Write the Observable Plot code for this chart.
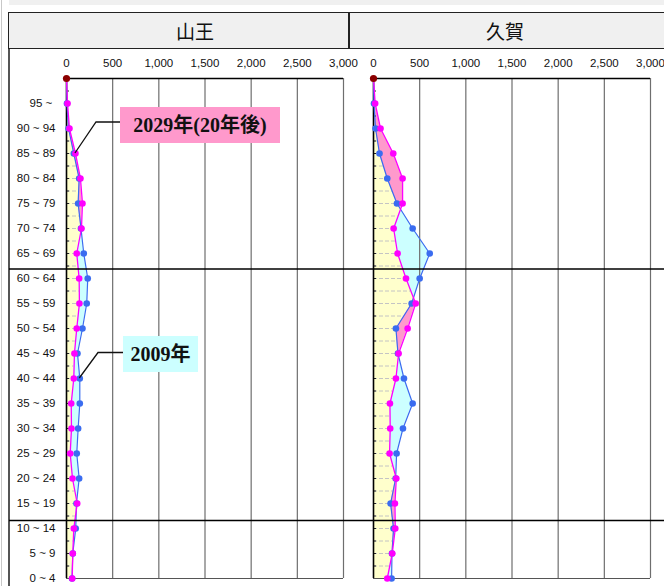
<!DOCTYPE html>
<html>
<head>
<meta charset="utf-8">
<script src="https://cdn.jsdelivr.net/npm/d3@7"></script>
<script src="https://cdn.jsdelivr.net/npm/@observablehq/plot@0.6"></script>
<style>
  html, body { margin: 0; padding: 0; background: #fff; }
  #page { position: relative; width: 664px; height: 586px; overflow: hidden; background: #fff; }
  .band { position: absolute; left: 9px; top: 0; width: 660px; height: 5px; background: #f0f0f0; }
  .edge { position: absolute; left: 1px; top: 0; width: 1px; height: 586px; background: #c8c8c8; }
  .border { position: absolute; left: 8px; top: 12px; width: 2px; height: 574px; background: #555; }
  .header { position: absolute; left: 8px; top: 12px; width: 670px; height: 35px;
            border: 1.5px solid #222; background: #f0f0f0; box-sizing: content-box; }
  .header .divider { position: absolute; left: 339px; top: 0; width: 2px; height: 35px; background: #222; }
  .header .cell { position: absolute; top: 0; height: 35px; line-height: 35px; font-size: 19px;
                  font-family: "Noto Sans CJK JP", sans-serif; color: #111; transform: translateX(-50%); }
  .note { position: absolute; box-sizing: border-box; text-align: center; font-weight: bold;
          font-family: "Liberation Serif", "Noto Sans CJK JP", serif; font-size: 20px; color: #111; }
</style>
</head>
<body>
<div id="page"></div>
<script>
// Age groups, bottom (youngest) to top (oldest)
const ageGroups = ["0 ~ 4", "5 ~ 9", "10 ~ 14", "15 ~ 19", "20 ~ 24", "25 ~ 29", "30 ~ 34",
  "35 ~ 39", "40 ~ 44", "45 ~ 49", "50 ~ 54", "55 ~ 59", "60 ~ 64", "65 ~ 69", "70 ~ 74",
  "75 ~ 79", "80 ~ 84", "85 ~ 89", "90 ~ 94", "95 ~\u00a0"];

const panels = ["山王", "久賀"];

// Population by age group (2009 actual, 2029 projection)
const sannou2009 = [60, 68, 100, 108, 137, 111, 126, 144, 144, 119, 173, 219, 230, 187, 157, 126, 137, 79, 22, 5];
const sannou2029 = [62, 68, 79, 116, 65, 40, 54, 51, 79, 86, 111, 140, 137, 111, 162, 173, 151, 97, 32, 11];
const kuga2009 = [196, 200, 217, 185, 240, 250, 319, 424, 330, 265, 243, 413, 500, 609, 424, 254, 149, 65, 22, 5];
const kuga2029 = [149, 203, 236, 232, 247, 174, 181, 178, 243, 272, 370, 457, 352, 261, 218, 315, 315, 214, 76, 18];

// Apex of the pyramid outline
const apexValue = 0;

const xTicks = [0, 500, 1000, 1500, 2000, 2500, 3000];

const label2029 = "2029年(20年後)";
const label2009 = "2009年";

// ---- colours
const C = {
  y2009: "#3a6cf0", y2029: "#ff00ff", apex: "#8b0000",
  more2029: "#ff99cc", more2009: "#ccffff", base: "#ffffcc"
};

const page = document.getElementById("page");

// rows with the apex on top
function buildRows(v2009, v2029) {
  const rows = ageGroups.map((g, i) => ({idx: i, age: g, b: v2009[i], m: v2029[i]}));
  rows.push({idx: ageGroups.length, age: "", b: apexValue, m: apexValue});
  return rows;
}

// rows plus the points where the two outlines cross, so that fills split cleanly
function withCrossings(rows) {
  const out = [];
  for (let i = 0; i < rows.length; i++) {
    out.push(rows[i]);
    if (i + 1 < rows.length) {
      const d0 = rows[i].m - rows[i].b, d1 = rows[i + 1].m - rows[i + 1].b;
      if (d0 * d1 < 0) {
        const t = d0 / (d0 - d1);
        const v = rows[i].b + t * (rows[i + 1].b - rows[i].b);
        out.push({idx: rows[i].idx + t, b: v, m: v});
      }
    }
  }
  return out;
}

const halfSteps = d3.range(0.5, ageGroups.length, 0.5);
const frameWidth = 277;

function panelPlot(v2009, v2029, {left, width, marginLeft, marginRight, showY}) {
  const rows = buildRows(v2009, v2029);
  const aug = withCrossings(rows);
  const ages = rows.slice(0, ageGroups.length);
  const lo = d => Math.min(d.b, d.m), hi = d => Math.max(d.b, d.m);
  const svg = Plot.plot({
    width, height: 586,
    marginTop: 78, marginBottom: 8, marginLeft, marginRight,
    style: {background: "transparent", fontFamily: "'Liberation Sans', Arial, sans-serif",
            fontSize: "11.5px", color: "#111", overflow: "visible"},
    x: {domain: [0, 3000], axis: "top", ticks: xTicks, tickFormat: d3.format(","),
        tickSize: 0, tickPadding: 12, label: null},
    y: {domain: [0, ageGroups.length], ticks: d3.range(ageGroups.length),
        tickFormat: i => ageGroups[i], tickSize: 0, tickPadding: 11, label: null,
        axis: showY ? "left" : null},
    marks: [
      Plot.areaX(aug, {y: "idx", x1: 0, x2: lo, fill: C.base}),
      Plot.ruleY(halfSteps, {y: d => d, stroke: "#c4c4c4", strokeDasharray: "4,2"}),
      Plot.areaX(aug, {y: "idx", x1: lo, x2: 3000, fill: "white"}),
      Plot.areaX(aug, {y: "idx", x1: "b", x2: hi, fill: C.more2029}),
      Plot.areaX(aug, {y: "idx", x1: "m", x2: hi, fill: C.more2009}),
      Plot.ruleX(xTicks.slice(1), {stroke: "#6e6e6e", strokeWidth: 1.2}),
      Plot.ruleY([0], {stroke: "#555", strokeWidth: 1.2}),
      Plot.ruleY([ageGroups.length], {stroke: "#000", strokeWidth: 1.6}),
      Plot.tickY(halfSteps, {y: d => d, stroke: "#222", insetRight: frameWidth - 3}),
      Plot.ruleX([0], {stroke: "#000", strokeWidth: 1.6}),
      Plot.line(rows, {x: "b", y: "idx", stroke: C.y2009, strokeWidth: 1.2}),
      Plot.line(rows, {x: "m", y: "idx", stroke: C.y2029, strokeWidth: 1.3}),
      Plot.dot(ages, {x: "b", y: "idx", fill: C.y2009, r: 3.3}),
      Plot.dot(ages, {x: "m", y: "idx", fill: C.y2029, r: 3.3}),
      Plot.dot(rows.slice(ageGroups.length), {x: "b", y: "idx", fill: C.apex, r: 3.6})
    ]
  });
  svg.style.position = "absolute";
  svg.style.left = left + "px";
  svg.style.top = "0px";
  return svg;
}

// frame decorations
page.insertAdjacentHTML("beforeend",
  `<div class="edge"></div><div class="band"></div><div class="border"></div>`);

const leftPlot = panelPlot(sannou2009, sannou2029,
  {left: 0, width: 360, marginLeft: 66, marginRight: 17, showY: true});
const rightPlot = panelPlot(kuga2009, kuga2029,
  {left: 300, width: 364, marginLeft: 73, marginRight: 14, showY: false});
page.appendChild(leftPlot);
page.appendChild(rightPlot);

// header row with the district names
const header = document.createElement("div");
header.className = "header";
header.innerHTML = `<div class="divider"></div>
  <div class="cell" style="left:186px">${panels[0]}</div>
  <div class="cell" style="left:496px">${panels[1]}</div>`;
page.appendChild(header);

// overlay: age-band dividers and callout leaders
const xs = leftPlot.scale("x"), ys = leftPlot.scale("y");
const overlay = d3.create("svg")
  .attr("width", 664).attr("height", 586)
  .style("position", "absolute").style("left", "0px").style("top", "0px")
  .style("pointer-events", "none");

const ageBreaks = [2.3, 12.36];
overlay.selectAll("line.break").data(ageBreaks).join("line")
  .attr("x1", 9).attr("x2", 664)
  .attr("y1", d => ys.apply(d)).attr("y2", d => ys.apply(d))
  .attr("stroke", "#000").attr("stroke-width", 1.3);

const notes = [
  {text: label2029, fill: C.more2029, box: [120, 107, 160, 36], elbowX: 96, lineY: 122,
   value: sannou2029[17], idx: 17},
  {text: label2009, fill: C.more2009, box: [123, 336, 75, 36], elbowX: 98, lineY: 352.5,
   value: sannou2009[8], idx: 8}
];

for (const n of notes) {
  const tx = xs.apply(n.value), ty = ys.apply(n.idx);
  overlay.append("polyline")
    .attr("points", [[n.box[0], n.lineY], [n.elbowX, n.lineY], [tx, ty]].map(p => p.join(",")).join(" "))
    .attr("fill", "none").attr("stroke", "#111").attr("stroke-width", 1.3);
}
page.appendChild(overlay.node());

for (const n of notes) {
  const div = document.createElement("div");
  div.className = "note";
  div.textContent = n.text;
  Object.assign(div.style, {
    left: n.box[0] + "px", top: n.box[1] + "px", width: n.box[2] + "px",
    height: n.box[3] + "px", lineHeight: n.box[3] + "px", background: n.fill
  });
  page.appendChild(div);
}
</script>
</body>
</html>
